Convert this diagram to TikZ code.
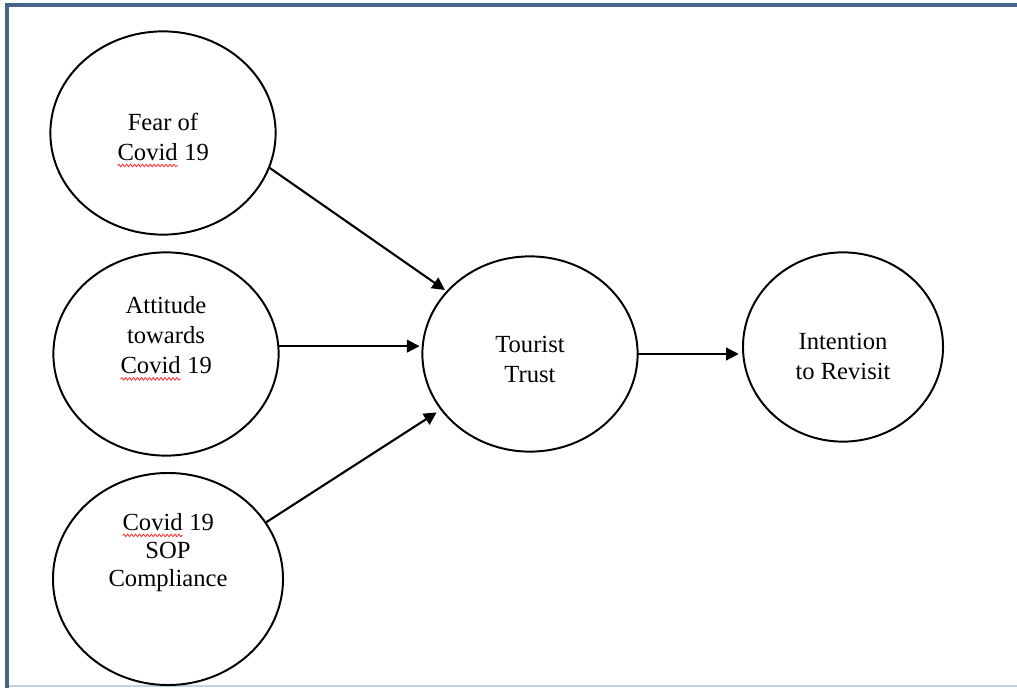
\documentclass[tikz,border=0pt]{standalone}
\usepackage{fontspec}
\setmainfont{Liberation Serif}
\usepackage{xcolor}
\usepackage{tikz}
\usetikzlibrary{shapes.geometric,arrows.meta,positioning,decorations.pathmorphing}
\definecolor{frameblue}{RGB}{70,100,135}
\definecolor{framelight}{RGB}{190,210,228}
\newcommand{\spellmark}[1]{\tikz[baseline=(w.base)]{\node[inner sep=0pt, outer sep=0pt] (w) {#1};\draw[red!80, line width=0.6pt, decorate, decoration={snake, amplitude=0.9pt, segment length=2.8pt}] ([yshift=-3.8pt]w.base west) -- ([yshift=-3.8pt]w.base east);}}
\begin{document}
\begin{tikzpicture}[x=0.025cm, y=-0.025cm, font=\fontsize{17.5}{21.3}\selectfont, bubble/.style={draw, ellipse, line width=1.4pt, inner sep=0pt, outer sep=0pt}, txt/.style={align=center, inner sep=0pt}, arr/.style={-{Triangle[length=9pt, width=9pt]}, line width=1.5pt}]
\useasboundingbox (0,0) rectangle (1017,688);
\fill[white] (0,0) rectangle (1017,688);
\draw[framelight, line width=1.6pt] (7,686) -- (1017,686);
\draw[frameblue, line width=2.2pt] (7,688) -- (7,5) -- (1017,5);
\node[bubble, minimum width=5.63cm, minimum height=5.08cm] (fear) at (163,133) {};
\node[bubble, minimum width=5.63cm, minimum height=5.08cm] (attitude) at (166,354) {};
\node[bubble, minimum width=5.75cm, minimum height=5.3cm] (sop) at (168,579) {};
\node[bubble, minimum width=5.38cm, minimum height=4.88cm] (trust) at (530,354) {};
\node[bubble, minimum width=5cm, minimum height=4.73cm] (intent) at (843,347) {};
\node[txt] (fearTxt) at ([yshift=-5pt]fear.center) {Fear of\\\spellmark{Covid} 19};
\node[txt] (attitudeTxt) at ([yshift=11pt]attitude.center) {Attitude\\towards\\\spellmark{Covid} 19};
\node[txt, font=\fontsize{17.5}{20}\selectfont] (sopTxt) at ([yshift=19pt]sop.center) {\spellmark{Covid} 19\\SOP\\Compliance};
\node[txt] (trustTxt) at ([yshift=-4pt]trust.center) {Tourist\\Trust};
\node[txt] (intentTxt) at ([yshift=-6.5pt]intent.center) {Intention\\to Revisit};
\draw[arr, shorten >=2pt] (fear.-18) -- (trust.143);
\draw[arr, shorten >=2pt] (attitude.4) -- (attitude.4 -| trust.west);
\draw[arr, shorten >=4pt] (sop.30) -- (trust.212);
\draw[arr, shorten >=3pt] (trust.east) -- (trust.east -| intent.west);
\end{tikzpicture}
\end{document}
